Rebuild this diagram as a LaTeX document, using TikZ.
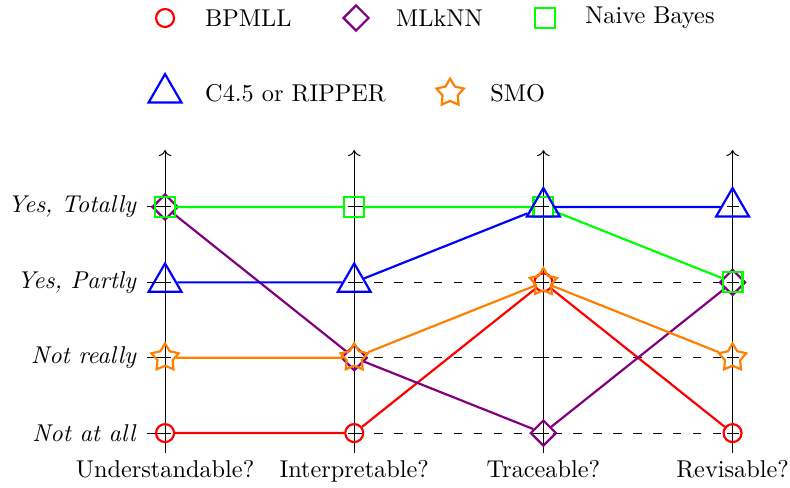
\documentclass[tikz,border=0pt]{standalone}
\usepackage{xcolor}
\usepackage{tikz}
\usetikzlibrary{shapes.geometric}
\usetikzlibrary{arrows.meta}
\definecolor{mlpurple}{rgb}{0.5,0,0.5}
\definecolor{mlorange}{rgb}{1,0.5,0}

\begin{document}
\begin{tikzpicture}[x=2.737cm, y=1.0905cm,
	bpmll/.style={circle, draw=red, line width=0.9pt, inner sep=0pt, minimum size=7.4pt},
	mlknn/.style={diamond, draw=mlpurple, line width=0.9pt, inner sep=0pt, minimum size=10.7pt},
	naive/.style={rectangle, draw=green, line width=0.9pt, inner sep=0pt, minimum size=8.2pt},
	ripper/.style={regular polygon, regular polygon sides=3, draw=blue, line width=0.9pt, inner sep=0pt, minimum size=15.6pt},
	smo/.style={star, star points=5, star point ratio=1.8, draw=mlorange, line width=0.9pt, inner sep=0pt, minimum size=11.8pt},
	legend/.style={anchor=west, xshift=13pt}]
			\useasboundingbox (-0.8725,-0.7162) rectangle (3.3036,5.746);
			% Grid
			\foreach \j in {0,...,3}
				\draw[dash pattern=on 3.5pt off 4.7pt] (1,\j) coordinate (g1\j) -- (3,\j) coordinate (g3\j);
			% Axes
			\foreach \name [count=\i from 0] in {Understandable?, Interpretable?, Traceable?, Revisable?} {
				\coordinate (bot\i) at (\i,-0.265);
				\coordinate (top\i) at (\i,3.755);
				\draw[->] (bot\i) -- (top\i);
				\node[anchor=base] (ax\i) at (\i,-0.5835) {\name};
				\foreach \j in {0,...,3}
					\draw (\i,\j) ++(-2.5pt,0) -- ++(5pt,0);
			}
			% Levels
			\foreach \lab [count=\j from 0] in {Not at all, Not really, {Yes, Partly}, {Yes, Totally}} {
				\draw (0,\j) ++(-7.4pt,0) -- ++(4.9pt,0);
				\node[anchor=east, inner sep=0pt] (lev\j) at ([xshift=-11.5pt]0,\j) {\textit{\lab}};
			}
			% Legend
			\node[bpmll] (lg-b) at (0,5.507) {};
			\node[legend] (lt-b) at (lg-b.center) {BPMLL};
			\node[mlknn] (lg-m) at (1.0095,5.507) {};
			\node[legend] (lt-m) at (lg-m.center) {MLkNN};
			\node[naive] (lg-n) at (2.009,5.507) {};
			\node[legend] (lt-n) at (lg-n.center) {Naive Bayes};
			\node[ripper] (lg-c) at (0,4.512) {};
			\node[legend] (lt-c) at (lg-c.center) {C4.5 or RIPPER};
			\node[smo] (lg-s) at (1.507,4.512) {};
			\node[legend] (lt-s) at (lg-s.center) {SMO};
			% BPMLL
			\foreach \v [count=\i from 0] in {0,0,2,0}
				\node[bpmll] (b\i) at (\i,\v) {};
			\draw[red, line width=0.9pt] (b0) -- (b1) -- (b2) -- (b3);
			% MLkNN
			\foreach \v [count=\i from 0] in {3,1,0,2}
				\node[mlknn] (m\i) at (\i,\v) {};
			\draw[mlpurple, line width=0.9pt] (m0) -- (m1) -- (m2) -- (m3);
			% Naive Bayes
			\foreach \v [count=\i from 0] in {3,3,3,2}
				\node[naive] (n\i) at (\i,\v) {};
			\draw[green, line width=0.9pt] (n0) -- (n1) -- (n2) -- (n3);
			% C4.5 or RIPPER
			\foreach \v [count=\i from 0] in {2,2,3,3}
				\node[ripper] (c\i) at (\i,\v) {};
			\draw[blue, line width=0.9pt] (c0) -- (c1) -- (c2) -- (c3);
			% SMO
			\foreach \v [count=\i from 0] in {1,1,2,1}
				\node[smo] (s\i) at (\i,\v) {};
			\draw[mlorange, line width=0.9pt] (s0) -- (s1) -- (s2) -- (s3);
		\end{tikzpicture}
\end{document}
